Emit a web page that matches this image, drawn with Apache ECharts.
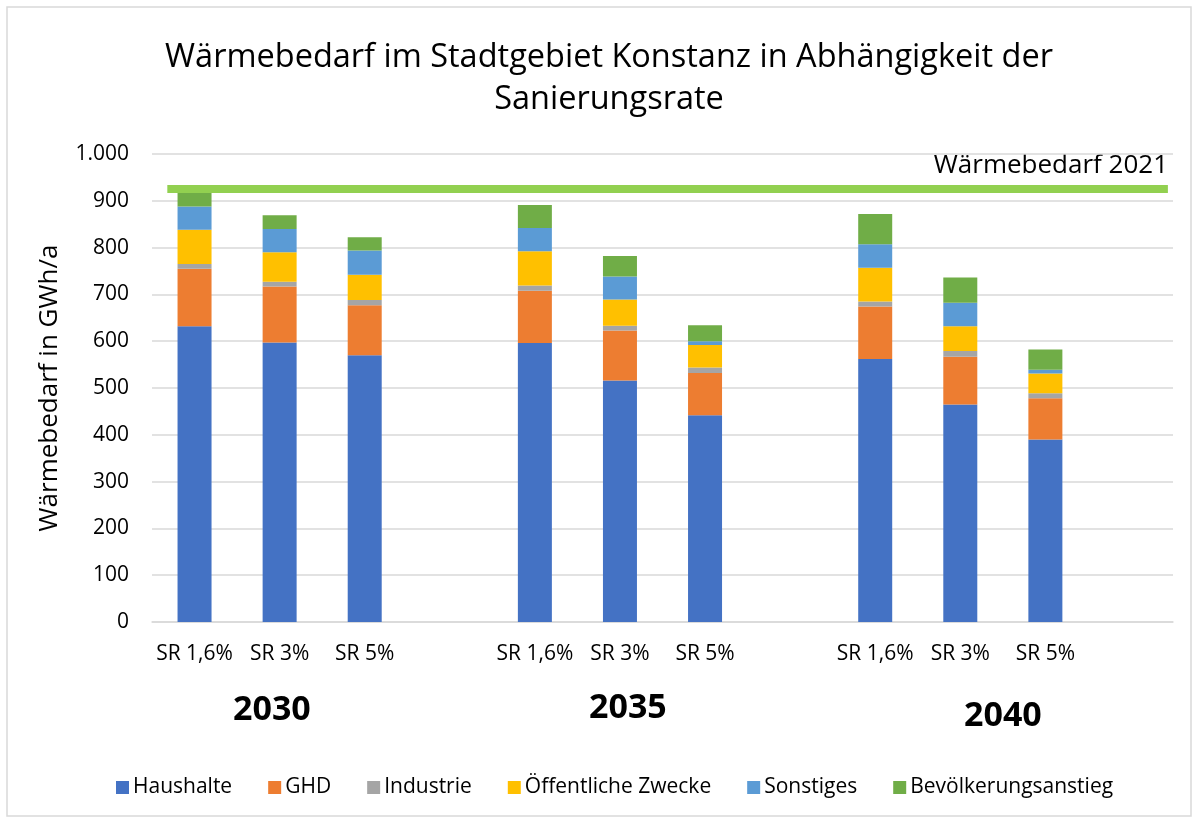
<!DOCTYPE html>
<html>
<head>
<meta charset="utf-8">
<script src="https://cdn.jsdelivr.net/npm/echarts@6/dist/echarts.min.js"></script>
<style>html,body{margin:0;padding:0;background:#fff;}#chart{width:1198px;height:821px;}</style>
</head>
<body>
<div id="chart"></div>
<script>
const categories = ['SR 1,6%','SR 3%','SR 5%','','SR 1,6%','SR 3%','SR 5%','','SR 1,6%','SR 3%','SR 5%',''];
const yearLabels = ['2030','2035','2040'];
const haushalte = [632,597,570,null,596,516,442,null,562,465,390,null];
const ghd       = [123,120,107,null,112,107,90,null,112,102,88,null];
const industrie = [10,10,11,null,11,10,12,null,11,12,11,null];
const oeffentlich = [73,63,54,null,73,56,48,null,72,53,42,null];
const sonstiges = [50,50,52,null,50,49,8,null,50,50,8,null];
const bevoelkerung = [34,29,28,null,49,44,34,null,65,54,43,null];
const waermebedarf2021 = 925;
const lineExtent = [0.18, 11.94];
const seriesNames = ['Haushalte','GHD','Industrie','Öffentliche Zwecke','Sonstiges','Bevölkerungsanstieg'];
const seriesData = [haushalte, ghd, industrie, oeffentlich, sonstiges, bevoelkerung];
const colors = ['#4472c4','#ed7d31','#a5a5a5','#ffc000','#5b9bd5','#70ad47'];

const FONT = 'Open Sans';
const chart = echarts.init(document.getElementById('chart'), null, {renderer:'canvas'});
const barSeries = seriesNames.map((n,i)=>({
  name:n, type:'bar', stack:'total', data:seriesData[i], barWidth:34,
  itemStyle:{color:colors[i]}, xAxisIndex:0, yAxisIndex:0, z:2
}));
const option = {
  animation:false,
  backgroundColor:'#fff',
  title:{
    text:'Wärmebedarf im Stadtgebiet Konstanz in Abhängigkeit der\nSanierungsrate',
    left:604, top:32, textAlign:'center',
    textStyle:{fontFamily:FONT, fontSize:32.5, fontWeight:'normal', color:'#000', lineHeight:42}
  },
  legend:{
    data:seriesNames, left:116, top:777, padding:0, itemWidth:13, itemHeight:13, itemGap:36,
    icon:'rect',
    textStyle:{fontFamily:FONT, fontSize:21, color:'#000', padding:[0,0,0,-1]}
  },
  grid:{left:152, right:25, top:154, bottom:199},
  xAxis:[
    {type:'category', data:categories, axisTick:{show:false},
     axisLine:{lineStyle:{color:'#d9d9d9', width:1.5}},
     axisLabel:{interval:0, margin:22, fontFamily:FONT, fontSize:21, color:'#000'}},
    {type:'value', min:0, max:12, show:false}
  ],
  yAxis:{type:'value', min:0, max:1000, interval:100,
    name:'Wärmebedarf in GWh/a', nameLocation:'middle', nameGap:89, nameRotate:90,
    nameTextStyle:{fontFamily:FONT, fontSize:26, color:'#000'},
    axisLine:{show:false}, axisTick:{show:false},
    splitLine:{lineStyle:{color:'#d9d9d9', width:1.5}},
    axisLabel:{margin:23, fontFamily:FONT, fontSize:21, color:'#000',
      formatter:v=>v>=1000? String(v).replace(/\B(?=(\d{3})+(?!\d))/g,'.') : String(v)}
  },
  series:[...barSeries, {
    name:'Wärmebedarf 2021', type:'line', xAxisIndex:1, yAxisIndex:0,
    data:[[lineExtent[0], waermebedarf2021],[lineExtent[1], waermebedarf2021]],
    symbol:'none', lineStyle:{color:'#92d050', width:8, cap:'butt'}, z:5,
    silent:true
  }],
  graphic:[
    {type:'rect', shape:{x:7,y:7,width:1184,height:809}, style:{fill:'none', stroke:'#d9d9d9', lineWidth:1.5}, silent:true, z:-1},
    {type:'text', right:30, top:153, style:{text:'Wärmebedarf 2021', font:'26px "Open Sans"', fill:'#000'}},
    {type:'text', left:233, top:693, style:{text:yearLabels[0], font:'bold 34px "Open Sans"', fill:'#000'}},
    {type:'text', left:589, top:691, style:{text:yearLabels[1], font:'bold 34px "Open Sans"', fill:'#000'}},
    {type:'text', left:964, top:699, style:{text:yearLabels[2], font:'bold 34px "Open Sans"', fill:'#000'}}
  ]
};
chart.setOption(option);
</script>
</body>
</html>
